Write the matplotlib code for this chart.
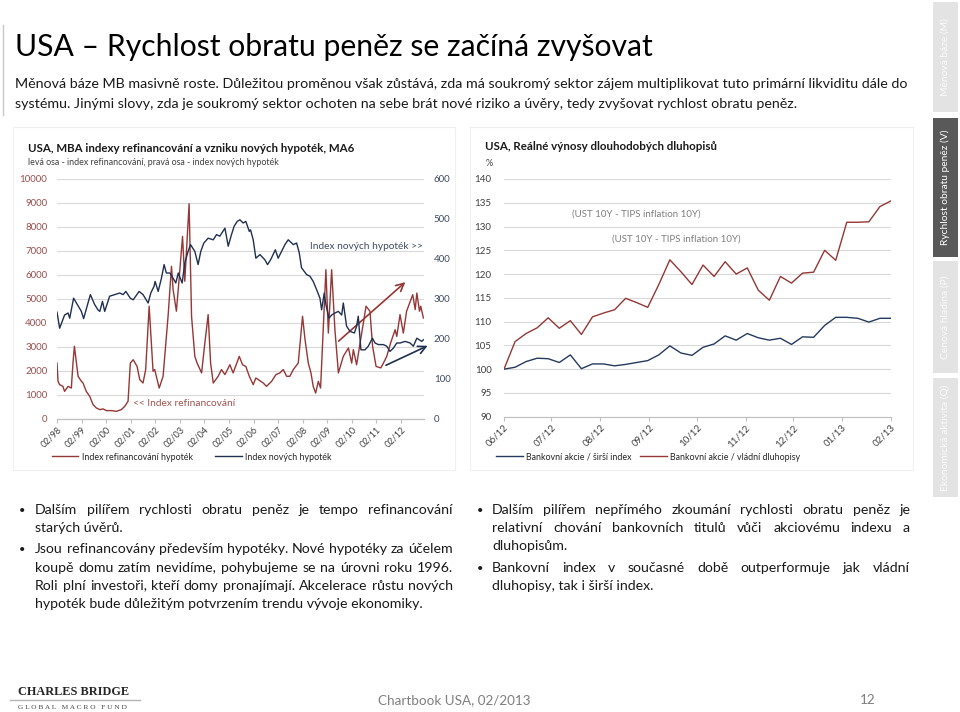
import math
import matplotlib
matplotlib.use("Agg")
import matplotlib.pyplot as plt
from matplotlib.lines import Line2D
from matplotlib.patches import Rectangle
from matplotlib.backends.backend_agg import get_hinting_flag
import pandas as pd

W, H = 960, 712
plt.rcParams['font.family'] = ['Lato', 'DejaVu Sans']

# ---------------- data: left chart (months since 02/1998) ----------------
refi_month = [0, 0.5, 1.3, 2.9, 3.7, 5.4, 7.0, 7.8, 8.5, 9.5, 10.3, 11.9, 12.7, 14.3, 16.0, 17.6,
              19.2, 20.9, 22.5, 24.1, 26.6, 29.0, 31.4, 33.1, 34.7, 35.8, 37.2, 39.1, 40.4, 42.0,
              43.3, 45.0, 46.9, 47.7, 49.9, 51.8, 54.3, 55.9, 56.7, 58.3, 59.6, 61.3, 62.4, 64.5,
              65.7, 67.3, 68.4, 70.6, 72.2, 73.8, 75.0, 76.3, 78.7, 80.3, 82.0, 84.4, 86.0, 89.0,
              90.6, 92.2, 93.9, 95.8, 97.1, 100.7, 102.3, 104.8, 106.9, 108.8, 110.5, 112.1, 113.7,
              115.4, 117.8, 119.9, 121.1, 122.7, 124.0, 125.1, 126.3, 127.6, 128.7, 131.3, 132.5,
              134.1, 135.7, 137.4, 139.8, 142.3, 143.9, 144.7, 146.3, 148.0, 149.6, 150.9, 152.8,
              154.1, 155.8, 158.1, 159.4, 161.0, 162.9, 165.1, 165.9, 167.5, 169.1, 170.7, 173.7,
              174.9, 175.7, 177.0, 177.6, 178.9]
refi_value = [2330, 1570, 1430, 1360, 1150, 1360, 1290, 2330, 3030, 2330, 1780, 1570, 1500, 1150,
              940, 600, 460, 390, 420, 350, 350, 320, 390, 530, 740, 2330, 2470, 2190, 1640, 1500,
              2060, 4700, 1990, 2060, 1290, 1780, 4350, 6360, 5390, 4490, 5810, 7610, 5740, 8970,
              4280, 2610, 2330, 1920, 3170, 4350, 2330, 1500, 1780, 2060, 1850, 2260, 1920, 2610,
              2260, 2190, 1780, 1430, 1710, 1500, 1360, 1570, 1850, 1920, 2060, 1780, 1780, 2060,
              2330, 4280, 3310, 2330, 1920, 1360, 1080, 1570, 1290, 6220, 3580, 6220, 3720, 1920,
              2610, 2960, 2330, 2890, 2260, 3170, 4000, 4700, 4490, 3030, 2190, 2130, 2330, 2610,
              3170, 3720, 3440, 4350, 3580, 4490, 5180, 4560, 5250, 4490, 4700, 4210]

new_month = [0, 1.3, 3.7, 5.4, 6.2, 8.1, 9.5, 11.9, 13.0, 14.7, 16.3, 18.4, 20.0, 20.9, 22.2, 23.3,
             25.7, 28.2, 30.6, 32.3, 33.6, 35.8, 37.2, 40.1, 42.0, 44.5, 45.8, 47.4, 47.9, 49.4,
             51.0, 52.3, 53.4, 55.1, 56.7, 58.0, 59.2, 61.1, 62.4, 64.0, 65.2, 67.3, 68.9, 70.2,
             71.7, 73.8, 76.3, 77.9, 79.5, 82.0, 83.6, 85.2, 86.5, 88.0, 89.3, 90.9, 92.2, 93.9,
             94.5, 95.8, 97.1, 99.1, 101.5, 102.8, 104.3, 106.6, 108.0, 111.3, 112.9, 115.4, 117.0,
             118.3, 119.4, 121.9, 123.5, 125.1, 126.8, 128.4, 129.2, 130.5, 131.3, 132.8, 134.1,
             135.7, 137.4, 139.0, 139.8, 141.4, 143.1, 145.2, 146.3, 147.1, 148.4, 150.4, 152.0,
             154.0, 155.3, 156.9, 159.4, 161.0, 162.6, 164.2, 165.9, 167.5, 170.0, 172.4, 174.0,
             175.7, 178.1, 178.9]
new_value = [267, 227, 260, 265, 252, 302, 290, 269, 251, 282, 311, 286, 273, 269, 294, 269, 307,
             311, 315, 311, 319, 302, 298, 319, 311, 290, 315, 332, 344, 319, 352, 386, 365, 365,
             352, 340, 365, 340, 390, 419, 436, 419, 386, 419, 440, 452, 448, 461, 457, 477, 432,
             461, 482, 494, 498, 490, 494, 469, 473, 448, 402, 411, 398, 386, 398, 423, 402, 436,
             448, 436, 440, 415, 378, 361, 357, 344, 323, 302, 273, 315, 286, 252, 260, 265, 269,
             260, 290, 232, 219, 215, 232, 257, 173, 173, 182, 202, 190, 186, 186, 182, 169, 177,
             190, 190, 194, 190, 182, 202, 194, 198]

left_xticks = [0, 12, 24, 36, 48, 60, 72, 84, 96, 108, 120, 132, 144, 156, 168]
left_xlabels = ['02/98', '02/99', '02/00', '02/01', '02/02', '02/03', '02/04', '02/05',
                '02/06', '02/07', '02/08', '02/09', '02/10', '02/11', '02/12']

# trend arrows (month, left-axis value)
red_arrow = [(136.5, 3170), (171.1, 5780)]
blue_arrow = [(159.4, 2190), (182.2, 3100)]

# ---------------- data: right chart (weekly) ----------------
bank_start = '2012-06-01'
bank_broad = [100, 100.4, 101.6, 102.3, 102.2, 101.4, 103.0, 100.1, 101.1, 101.1, 100.7, 101.0,
              101.4, 101.8, 103.0, 104.9, 103.4, 102.9, 104.6, 105.3, 107.0, 106.1, 107.5, 106.6,
              106.1, 106.5, 105.2, 106.8, 106.7, 109.2, 110.9, 110.9, 110.7, 109.9, 110.7, 110.7]
bank_gov = [100, 105.8, 107.5, 108.7, 110.8, 108.6, 110.2, 107.3, 111.0, 111.8, 112.5, 114.9,
            114.0, 113.0, 117.8, 123.0, 120.5, 117.8, 121.9, 119.5, 122.6, 120.0, 121.3, 116.6,
            114.5, 119.5, 118.1, 120.2, 120.4, 125.0, 122.9, 130.9, 130.9, 131.0, 134.2, 135.4]

RED = '#953735'
BLUE = '#1f3050'
GRID = '#d9d9d9'
AXC = '#bfbfbf'
TXT = '#1a1a1a'

fig = plt.figure(figsize=(9.6, 7.12), dpi=100)
fig.patch.set_facecolor('white')
R = fig.canvas.get_renderer()


def fx(x):
    return x / W


def fy(y):
    return 1 - y / H


def measure(s, size, **kw):
    t = fig.text(0, 0, s, fontsize=size, **kw)
    w = t.get_window_extent(renderer=R).width
    t.remove()
    return w


def fit_size(s, width, **kw):
    return 10 * width / measure(s, 10, **kw)


def put(x, y, s, size, ha='left', va='baseline', **kw):
    return fig.text(fx(x), fy(y), s, fontsize=size, ha=ha, va=va, **kw)


def put_fit(x, y, s, width, ha='left', va='baseline', **kw):
    return put(x, y, s, fit_size(s, width, **kw), ha=ha, va=va, **kw)


def raster_shift(t, s):
    """pixel offset with which Agg rasterises the word relative to its baseline"""
    try:
        font = R._prepare_font(t.get_fontproperties())
        font.set_text(s, 0, flags=get_hinting_flag())
        _, hh = font.get_width_height()
        d = font.get_descent() / 64.0
        hh = hh / 64.0
        ymax = hh - d
        return round(d) - math.floor(hh + 1e-9) + math.floor(ymax + 1e-9)
    except Exception:
        return 0


def justify(x0, x1, y, s, size, **kw):
    words = s.split()
    ws = [measure(w, size, **kw) for w in words]
    gap = (x1 - x0 - sum(ws)) / (len(words) - 1)
    x = x0
    for w, wd in zip(words, ws):
        t = put(x, y, w, size, **kw)
        e = raster_shift(t, w)
        if e:
            t.set_y(fy(y - e))
        x += wd + gap


# ---------------- slide header ----------------
fig.add_artist(Line2D([fx(3), fx(3)], [fy(25), fy(115)], color='#c8c8c8', lw=1))
put_fit(15, 56, 'USA – Rychlost obratu peněz se začíná zvyšovat', 637, color='#000000')
body1 = ('Měnová báze MB masivně roste. Důležitou proměnou však zůstává, zda má soukromý sektor '
         'zájem multiplikovat tuto primární likviditu dále do')
body2 = ('systému. Jinými slovy, zda je soukromý sektor ochoten na sebe brát nové riziko a úvěry, '
         'tedy zvyšovat rychlost obratu peněz.')
bsize = fit_size(body1, 895)
put(15, 88, body1, bsize, color=TXT)
put(15, 108, body2, bsize, color=TXT)

# ---------------- side tabs ----------------
tabs = [('Měnová báze (M)', 2, 112, '#e3e3e3', '#fbfbfb'),
        ('Rychlost obratu peněz (V)', 118, 257, '#595959', '#ffffff'),
        ('Cenová hladina (P)', 261, 373, '#e3e3e3', '#fbfbfb'),
        ('Ekonomická aktivita (Q)', 378, 497, '#e3e3e3', '#fbfbfb')]
tsize = fit_size('Rychlost obratu peněz (V)', 116)
for label, y0, y1, bg, fg in tabs:
    fig.add_artist(Rectangle((fx(933), fy(y1)), 25 / W, (y1 - y0) / H, transform=fig.transFigure,
                             facecolor=bg, edgecolor='none'))
    fig.text(fx(945.5), fy((y0 + y1) / 2), label, rotation=90, ha='center', va='center',
             fontsize=tsize, color=fg)

# chart frames
for x0, x1 in [(13, 455), (470, 913)]:
    fig.add_artist(Rectangle((fx(x0), fy(470)), (x1 - x0) / W, (470 - 127) / H,
                             transform=fig.transFigure, fill=False, edgecolor='#f0f0f0', lw=0.8))

# ---------------- left chart ----------------
axL = fig.add_axes([fx(57), fy(419), 367 / W, 240 / H])
axN = axL.twinx()
axL.plot(refi_month, refi_value, color=RED, lw=1.0, zorder=3)
axN.plot(new_month, new_value, color=BLUE, lw=1.0, zorder=3)
axL.set_xlim(0, 179.2)
axL.set_ylim(0, 10000)
axN.set_ylim(0, 600)
axL.set_yticks(range(0, 10001, 1000))
axN.set_yticks(range(0, 601, 100))
axL.set_xticks(left_xticks)
axL.set_xticklabels(left_xlabels, rotation=45, ha='right', va='top', rotation_mode='anchor')
axL.yaxis.grid(True, color=GRID, lw=0.8)
axL.set_axisbelow(True)
for a in (axL, axN):
    for s in ('top', 'left', 'right'):
        a.spines[s].set_visible(False)
    a.spines['bottom'].set_color(AXC)
    a.patch.set_visible(False)
axL.tick_params(axis='y', length=0, pad=7, labelsize=7, labelcolor='#9b4f4c')
axN.tick_params(axis='y', length=0, pad=7, labelsize=7, labelcolor='#3d4b63')
axL.tick_params(axis='x', length=3, color=AXC, labelsize=6.5, labelcolor='#404040', pad=1.5)

axL.annotate('', xy=red_arrow[1], xytext=red_arrow[0],
             arrowprops=dict(arrowstyle='->', color=RED, lw=1.2, mutation_scale=14), zorder=5)
axL.annotate('', xy=blue_arrow[1], xytext=blue_arrow[0], annotation_clip=False,
             arrowprops=dict(arrowstyle='->', color=BLUE, lw=1.2, mutation_scale=14), zorder=5)

put_fit(28, 152, 'USA, MBA indexy refinancování a vzniku nových hypoték, MA6', 325,
        fontweight='bold', color='#1a1a1a')
put_fit(28, 165, 'levá osa - index refinancování, pravá osa - index nových hypoték', 252,
        color='#404040')
put_fit(423, 249, 'Index nových hypoték >>', 113, ha='right', color='#3d4b63')
put_fit(133, 406, '<< Index refinancování', 102, color='#a0524f')

# left legend
fig.add_artist(Line2D([fx(52), fx(78)], [fy(456), fy(456)], color=RED, lw=1.0))
put_fit(82, 459.5, 'Index refinancování hypoték', 111, color='#262626')
fig.add_artist(Line2D([fx(215), fx(242)], [fy(456), fy(456)], color=BLUE, lw=1.0))
put_fit(245, 459.5, 'Index nových hypoték', 87, color='#262626')

# ---------------- right chart ----------------
dates = pd.date_range(bank_start, periods=len(bank_gov), freq='7D')
axR = fig.add_axes([fx(504), fy(416.7), 387 / W, 237.7 / H])
axR.plot(dates, bank_broad, color='#243a5e', lw=1.0, zorder=3)
axR.plot(dates, bank_gov, color=RED, lw=1.0, zorder=3)
mticks = pd.date_range(dates[0], dates[-1], freq='MS')
axR.set_xlim(dates[0], dates[-1])
axR.set_xticks(mticks)
axR.set_xticklabels([d.strftime('%m/%y') for d in mticks], rotation=45, ha='right', va='top',
                    rotation_mode='anchor')
axR.set_ylim(90, 140)
axR.set_yticks(range(90, 141, 5))
axR.yaxis.grid(True, color=GRID, lw=0.8)
axR.set_axisbelow(True)
for s in ('top', 'left', 'right'):
    axR.spines[s].set_visible(False)
axR.spines['bottom'].set_color(AXC)
axR.tick_params(axis='y', length=0, pad=9, labelsize=7, labelcolor='#404040')
axR.tick_params(axis='x', length=3, color=AXC, labelsize=7, labelcolor='#404040', pad=1.5)

put_fit(485, 150, 'USA, Reálné výnosy dlouhodobých dluhopisů', 232, fontweight='bold',
        color='#1a1a1a')
put(486, 166, '%', 6.5, color='#404040')
put_fit(572, 216.5, '(UST 10Y - TIPS inflation 10Y)', 129, color='#7f7f7f')
put_fit(612, 241.5, '(UST 10Y - TIPS inflation 10Y)', 129, color='#7f7f7f')

fig.add_artist(Line2D([fx(496), fx(523)], [fy(456), fy(456)], color='#243a5e', lw=1.0))
put_fit(526, 459.5, 'Bankovní akcie / širší index', 106, color='#262626')
fig.add_artist(Line2D([fx(640), fx(667)], [fy(456), fy(456)], color=RED, lw=1.0))
put_fit(670, 459.5, 'Bankovní akcie / vládní dluhopisy', 131, color='#262626')

# ---------------- bullets ----------------
psize = fit_size('hypoték bude důležitým potvrzením trendu vývoje ekonomiky.', 388)
left_lines = [('Dalším pilířem rychlosti obratu peněz je tempo refinancování', 514, True, True),
              ('starých úvěrů.', 532, False, False),
              ('Jsou refinancovány především hypotéky. Nové hypotéky za účelem', 553, True, True),
              ('koupě domu zatím nevidíme, pohybujeme se na úrovni roku 1996.', 572, True, False),
              ('Roli plní investoři, kteří domy pronajímají. Akcelerace růstu nových', 590, True, False),
              ('hypoték bude důležitým potvrzením trendu vývoje ekonomiky.', 608, False, False)]
right_lines = [('Dalším pilířem nepřímého zkoumání rychlosti obratu peněz je', 514, True, True),
               ('relativní chování bankovních titulů vůči akciovému indexu a', 532, True, False),
               ('dluhopisům.', 550, False, False),
               ('Bankovní index v současné době outperformuje jak vládní', 572, True, True),
               ('dluhopisy, tak i širší index.', 590, False, False)]
for lines, x0, x1, bx in [(left_lines, 35, 453, 19), (right_lines, 492, 910, 477)]:
    for s, y, just, bullet in lines:
        if just:
            justify(x0, x1, y, s, psize, color=TXT)
        else:
            put(x0, y, s, psize, color=TXT)
        if bullet:
            put(bx, y, '•', psize * 0.8, color=TXT)

# ---------------- footer ----------------
serif = ['Liberation Serif', 'DejaVu Serif']
put_fit(18, 695, 'CHARLES BRIDGE', 110, family=serif, fontweight='bold', color='#262626')
fig.add_artist(Line2D([fx(10), fx(140)], [fy(700), fy(700)], color='#b5b5b5', lw=1))
put_fit(18, 709, 'G L O B A L   M A C R O   F U N D', 108, family=serif, color='#444444')
fsize = fit_size('Chartbook USA, 02/2013', 152)
put(378, 704, 'Chartbook USA, 02/2013', fsize, color='#7f7f7f')
put(876, 704, '12', fsize, ha='right', color='#7f7f7f')

fig.savefig('out.png', dpi=100, facecolor='white')
